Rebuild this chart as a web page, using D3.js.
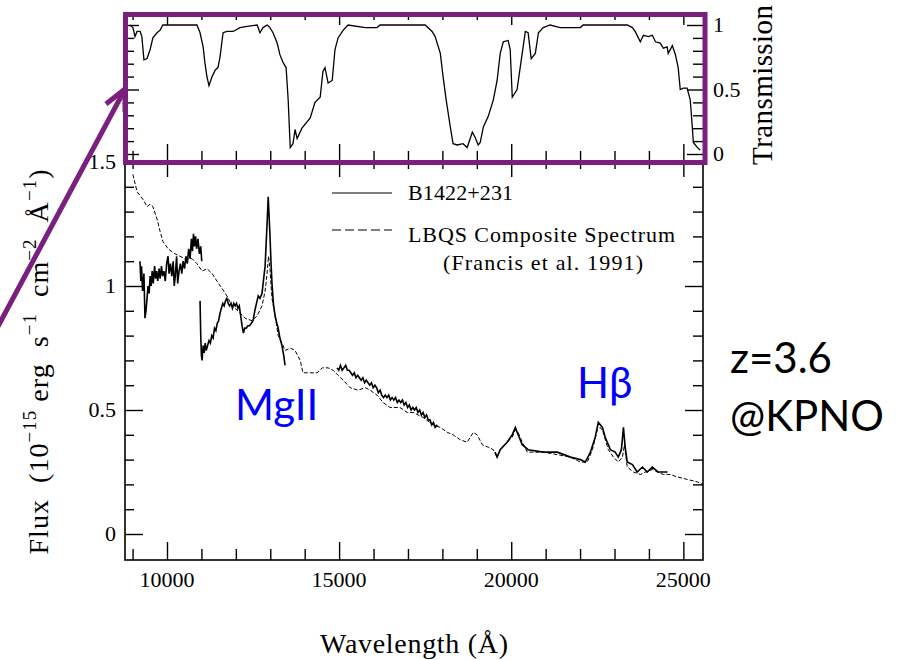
<!DOCTYPE html>
<html>
<head>
<meta charset="utf-8">
<script src="https://cdnjs.cloudflare.com/ajax/libs/d3/7.8.5/d3.min.js"></script>
<style>
body { margin: 0; background: #fff; }
svg text { font-family: "Liberation Serif", "Times New Roman", serif; fill: #000; }
.axis path { display: none; }
.axis line { stroke: #000; stroke-width: 1.4; }
.note { font-family: Lato, "Open Sans", sans-serif !important; }
</style>
</head>
<body>
<div id="vis"></div>
<script>
// atmospheric transmission (top panel)
var transWave = [8920, 9010, 9070, 9130, 9220, 9270, 9330, 9420, 9510, 9590, 9710, 9800, 9880,
    10870, 10960, 11050, 11100, 11160, 11220, 11310, 11400, 11480, 11540, 11600, 11630, 11740, 11920,
    12120, 12330, 12620, 12700, 12790, 12910, 12990, 13080, 13200, 13280, 13370, 13460, 13520, 13580,
    13660, 13720, 13780, 13920, 14160, 14300, 14450, 14530, 14590, 14680, 14800, 14880, 14970, 15120,
    15260, 15760, 16100, 16190, 17500, 17700, 17790, 17940, 18020, 18110, 18230, 18310, 18430, 18600,
    18720, 18870, 18950, 19040, 19100, 19190, 19330, 19480, 19590, 19680, 19770, 19910, 19970, 20030,
    20170, 20260, 20410, 20490, 20580, 20700, 20790, 20930, 21130, 21420, 22010, 22090, 23370, 23520,
    23600, 23750, 23840, 23980, 24100, 24190, 24330, 24420, 24530, 24560, 24680, 24770, 24850, 24910,
    25000, 25110, 25200, 25260, 25290, 25410, 25490];
var transVal = [1.00, 0.98, 0.91, 0.95, 0.95, 0.91, 0.73, 0.74, 0.81, 0.90, 0.94, 0.96, 1.00,
    1.00, 0.94, 0.83, 0.71, 0.60, 0.53, 0.60, 0.65, 0.67, 0.75, 0.88, 0.94, 0.95, 0.95,
    0.98, 0.99, 1.00, 0.94, 0.98, 1.00, 0.98, 0.94, 0.86, 0.77, 0.71, 0.67, 0.42, 0.05,
    0.08, 0.19, 0.12, 0.20, 0.28, 0.40, 0.44, 0.64, 0.67, 0.55, 0.57, 0.81, 0.90, 0.96,
    1.00, 0.98, 0.98, 1.00, 1.00, 0.95, 0.91, 0.78, 0.60, 0.42, 0.21, 0.08, 0.07, 0.08,
    0.05, 0.17, 0.13, 0.07, 0.09, 0.21, 0.29, 0.42, 0.57, 0.78, 0.87, 0.88, 0.81, 0.44,
    0.50, 0.67, 0.95, 0.94, 0.74, 0.78, 0.94, 0.98, 1.00, 0.98, 0.98, 1.00, 1.00, 0.98,
    0.95, 0.87, 0.92, 0.91, 0.92, 0.87, 0.86, 0.82, 0.83, 0.78, 0.84, 0.77, 0.67, 0.50,
    0.51, 0.51, 0.42, 0.21, 0.09, 0.05, 0.03];

// LBQS composite spectrum (dashed)
var compWave = [9010, 9130, 9300, 9420, 9510, 9590, 9710, 9800, 9880, 10030, 10230, 10520, 10730,
    10870, 11020, 11160, 11310, 11450, 11600, 11740, 11890, 12060, 12270, 12470, 12620, 12760, 12850,
    12900, 12950, 12990, 13050, 13140, 13230, 13370, 13430, 13580, 13720, 13870, 13950, 14160, 14360,
    14510, 14680, 14830, 14970, 15120, 15320, 15550, 15760, 15900, 16100, 16280, 16480, 16770, 16980,
    17150, 17440, 17730, 17940, 18140, 18310, 18520, 18720, 18810, 18900, 19010, 19160, 19330, 19480,
    19590, 19680, 19880, 20030, 20120, 20200, 20320, 20470, 20610, 20930, 21340, 21720, 22010, 22210,
    22360, 22500, 22590, 22670, 22820, 22970, 23110, 23230, 23290, 23370, 23550, 23750, 23900, 24100,
    24240, 24420, 24620, 24830, 25120, 25410, 25560];
var compFlux = [1.45, 1.38, 1.35, 1.32, 1.33, 1.32, 1.27, 1.22, 1.18, 1.15, 1.13, 1.11, 1.11,
    1.09, 1.06, 1.07, 1.05, 1.02, 0.99, 0.96, 0.92, 0.90, 0.87, 0.86, 0.88, 0.92, 0.98,
    1.04, 1.12, 1.07, 0.95, 0.88, 0.80, 0.76, 0.74, 0.75, 0.74, 0.70, 0.65, 0.65, 0.65,
    0.67, 0.67, 0.66, 0.64, 0.62, 0.59, 0.58, 0.59, 0.58, 0.56, 0.53, 0.51, 0.51, 0.49,
    0.49, 0.47, 0.44, 0.43, 0.41, 0.40, 0.38, 0.37, 0.39, 0.41, 0.40, 0.36, 0.35, 0.34,
    0.31, 0.34, 0.37, 0.39, 0.42, 0.41, 0.37, 0.33, 0.33, 0.33, 0.32, 0.31, 0.29, 0.29,
    0.34, 0.42, 0.43, 0.41, 0.34, 0.31, 0.29, 0.31, 0.36, 0.27, 0.25, 0.24, 0.25, 0.26,
    0.25, 0.24, 0.24, 0.23, 0.22, 0.21, 0.20];

// B1422+231 (solid), null marks the telluric gaps
var bWave = [9215, 9240, 9260, 9290, 9330, 9360, 9390, 9420, 9450, 9480, 9510, 9540, 9570, 9600,
    9640, 9670, 9700, 9730, 9770, 9800, 9840, 9870, 9910, 9950, 9990, 10030, 10060, 10100, 10140,
    10180, 10210, 10240, 10280, 10310, 10350, 10390, 10430, 10470, 10510, 10550, 10590, 10630, 10670,
    10710, 10740, 10770, 10800, 10830, 10860, 10900, 10940, 10980, 11010, 11015,
    10960, 10980, 11000, 11020, 11050, 11080, 11110, 11140, 11180, 11220, 11260, 11300, 11340, 11380,
    11420, 11460, 11500, 11540, 11580, 11620, 11660, 11700, 11740, 11780, 11820, 11860, 11900, 11940,
    11980, 12020, 12060, 12100, 12140, 12180, 12220, 12260, 12300, 12350, 12400, 12450, 12500, 12550,
    12600, 12650, 12700, 12760, 12800, 12850, 12880, 12910, 12940, 12960, 12990, 13020, 13050, 13090,
    13140, 13190, 13230, 13280, 13340, 13390, 13430, 13440,
    14940, 14990, 15040, 15090, 15140, 15190, 15240, 15290, 15340, 15390, 15440, 15490, 15540, 15590,
    15640, 15690, 15740, 15790, 15840, 15890, 15940, 15990, 16040, 16090, 16140, 16190, 16240, 16290,
    16340, 16390, 16440, 16490, 16540, 16590, 16640, 16690, 16740, 16790, 16840, 16890, 16940, 16990,
    17040, 17090, 17140, 17190, 17240, 17290, 17340, 17390, 17440, 17490, 17540, 17590, 17640, 17690,
    17740, 17790, 17850, 17860,
    19530, 19590, 19680, 19880, 20030, 20120, 20200, 20320, 20490, 20930, 21340, 21720, 22010, 22150,
    22300, 22440, 22530, 22650, 22730, 22880, 23020, 23110, 23200, 23260, 23310, 23370, 23520, 23660,
    23810, 23950, 24100, 24270, 24540];
var bFlux = [1.10, 1.02, 1.08, 0.98, 1.05, 0.87, 0.90, 0.95, 1.00, 0.97, 1.04, 1.00, 1.06, 1.01,
    1.08, 1.03, 1.06, 1.02, 1.07, 1.03, 1.08, 1.04, 1.06, 1.02, 1.09, 1.12, 1.05, 1.09, 1.04,
    1.10, 1.00, 1.04, 1.12, 1.01, 1.06, 1.09, 1.05, 1.10, 1.07, 1.12, 1.09, 1.15, 1.11,
    1.19, 1.14, 1.21, 1.16, 1.20, 1.15, 1.19, 1.13, 1.16, 1.10, null,
    0.94, 0.80, 0.72, 0.70, 0.76, 0.73, 0.77, 0.74, 0.76, 0.78, 0.77, 0.80, 0.79, 0.83,
    0.82, 0.85, 0.86, 0.89, 0.91, 0.93, 0.92, 0.94, 0.95, 0.93, 0.92, 0.93, 0.91, 0.93,
    0.92, 0.93, 0.91, 0.92, 0.88, 0.84, 0.81, 0.83, 0.83, 0.84, 0.84, 0.85, 0.86, 0.90,
    0.93, 0.96, 0.95, 0.97, 1.02, 1.08, 1.17, 1.26, 1.36, 1.30, 1.21, 1.10, 1.01, 0.93,
    0.88, 0.85, 0.83, 0.79, 0.76, 0.72, 0.68, null,
    0.67, 0.66, 0.68, 0.66, 0.67, 0.68, 0.66, 0.66, 0.65, 0.64, 0.65, 0.63, 0.64, 0.63,
    0.62, 0.63, 0.61, 0.62, 0.61, 0.60, 0.61, 0.59, 0.60, 0.59, 0.57, 0.58, 0.56, 0.55,
    0.56, 0.55, 0.56, 0.54, 0.55, 0.54, 0.55, 0.53, 0.54, 0.53, 0.54, 0.52, 0.53, 0.51,
    0.52, 0.50, 0.51, 0.50, 0.51, 0.49, 0.50, 0.48, 0.49, 0.47, 0.48, 0.46, 0.46, 0.44,
    0.45, 0.43, 0.44, null,
    0.33, 0.31, 0.34, 0.37, 0.40, 0.43, 0.40, 0.36, 0.34, 0.33, 0.33, 0.31, 0.30, 0.29,
    0.33, 0.39, 0.45, 0.43, 0.39, 0.34, 0.33, 0.31, 0.34, 0.43, 0.35, 0.29, 0.28, 0.25,
    0.27, 0.25, 0.27, 0.25, 0.25];

var xMajor = [10000, 15000, 20000, 25000];
var xMinor = d3.range(9000, 25001, 1000).filter(function(d) { return d % 5000 != 0; });
var fluxMajor = [0, 0.5, 1, 1.5];
var fluxMinor = d3.range(1, 15).map(function(d) { return d / 10; }).filter(function(d) { return d != 0.5 && d != 1; });
var transMajor = [0, 0.5, 1];
var transMinor = [0.1, 0.2, 0.3, 0.4, 0.6, 0.7, 0.8, 0.9];

var svg = d3.select('#vis').append('svg')
    .attr('width', 897)
    .attr('height', 660);

var left = 125, right = 703;
var xScale = d3.scaleLinear().domain([8780, 25600]).range([125, 704]);
var yFlux = d3.scaleLinear().domain([0, 1.5]).range([534, 162]);
var yTrans = d3.scaleLinear().domain([0, 1]).range([154, 25]);

// inward ticks helper
var ticks = function(axisFn, scale, values, size, tx, ty) {
    svg.append('g')
        .attr('class', 'axis')
        .attr('transform', 'translate(' + tx + ',' + ty + ')')
        .call(axisFn(scale).tickValues(values).tickSize(size).tickFormat(''));
};

// bottom panel frame + ticks
svg.append('rect').attr('x', left).attr('y', 161).attr('width', right - left).attr('height', 399)
    .attr('fill', 'none').attr('stroke', '#000').attr('stroke-width', 1.6);
ticks(d3.axisBottom, xScale, xMajor, -18, 0, 560);
ticks(d3.axisBottom, xScale, xMinor, -11, 0, 560);
ticks(d3.axisTop, xScale, xMajor, -16, 0, 161);
ticks(d3.axisTop, xScale, xMinor, -8, 0, 161);
ticks(d3.axisLeft, yFlux, fluxMajor, -18, left, 0);
ticks(d3.axisLeft, yFlux, fluxMinor, -9, left, 0);
ticks(d3.axisRight, yFlux, fluxMajor, -18, right, 0);
ticks(d3.axisRight, yFlux, fluxMinor, -10, right, 0);

// top panel ticks
ticks(d3.axisBottom, xScale, xMajor, -17, 0, 161);
ticks(d3.axisBottom, xScale, xMinor, -10, 0, 161);
ticks(d3.axisTop, xScale, xMajor, -11, 0, 14);
ticks(d3.axisTop, xScale, xMinor, -6, 0, 14);
ticks(d3.axisLeft, yTrans, transMajor, -14, left, 0);
ticks(d3.axisLeft, yTrans, transMinor, -9, left, 0);
ticks(d3.axisRight, yTrans, transMajor, -16, right, 0);
ticks(d3.axisRight, yTrans, transMinor, -10, right, 0);

// curves
var transData = transWave.map(function(d, i) { return {w: d, v: transVal[i]}; });
var compData = compWave.map(function(d, i) { return {w: d, v: compFlux[i]}; });
var bData = bWave.map(function(d, i) { return {w: d, v: bFlux[i]}; });

svg.append('path').datum(transData)
    .attr('d', d3.line().x(function(d) { return xScale(d.w); }).y(function(d) { return yTrans(d.v); }))
    .attr('fill', 'none').attr('stroke', '#000').attr('stroke-width', 1.3);

svg.append('path').datum(compData)
    .attr('d', d3.line().x(function(d) { return xScale(d.w); }).y(function(d) { return yFlux(d.v); }))
    .attr('fill', 'none').attr('stroke', '#000').attr('stroke-width', 1)
    .attr('stroke-dasharray', '4,2');

svg.append('path').datum(bData)
    .attr('d', d3.line().defined(function(d) { return d.v != null; })
        .x(function(d) { return xScale(d.w); }).y(function(d) { return yFlux(d.v); }))
    .attr('fill', 'none').attr('stroke', '#000').attr('stroke-width', 1.6);

// tick labels
svg.selectAll('.xlab').data(xMajor).enter().append('text')
    .attr('x', function(d) { return xScale(d); })
    .attr('y', 587)
    .attr('text-anchor', 'middle')
    .style('font-size', '22px')
    .text(function(d) { return d; });

svg.selectAll('.ylab').data(fluxMajor).enter().append('text')
    .attr('x', 116)
    .attr('y', function(d) { return yFlux(d) + 7; })
    .attr('text-anchor', 'end')
    .style('font-size', '22px')
    .text(function(d) { return d; });

svg.selectAll('.tlab').data(transMajor).enter().append('text')
    .attr('x', 713)
    .attr('y', function(d) { return yTrans(d) + 7; })
    .style('font-size', '22px')
    .text(function(d) { return d; });

// axis titles
svg.append('text')
    .attr('x', 414).attr('y', 653)
    .attr('text-anchor', 'middle')
    .attr('textLength', 188)
    .style('font-size', '28px')
    .text('Wavelength  (Å)');

svg.append('text')
    .attr('transform', 'translate(772,85) rotate(-90)')
    .attr('text-anchor', 'middle')
    .attr('textLength', 160)
    .style('font-size', '29px')
    .text('Transmission');

var yTitle = svg.append('text')
    .attr('transform', 'translate(48,362) rotate(-90)')
    .attr('text-anchor', 'middle')
    .attr('textLength', 385)
    .attr('lengthAdjust', 'spacing')
    .style('font-size', '28px')
    .style('white-space', 'pre');
var parts = [['Flux  (10', 0], ['−15', 1], [' erg  s', 0], ['−1', 1], ['  cm', 0], ['−2', 1], ['  Å', 0], ['−1', 1], [')', 0]];
var lastUp = 0;
parts.forEach(function(p) {
    var dy = p[1] ? -12 : (lastUp ? 12 : 0);
    yTitle.append('tspan')
        .attr('dy', dy)
        .style('font-size', p[1] ? '19px' : '28px')
        .text(p[0]);
    lastUp = p[1];
});

// legend
svg.append('line').attr('x1', 332).attr('x2', 392).attr('y1', 193).attr('y2', 193)
    .attr('stroke', '#000').attr('stroke-width', 1.2);
svg.append('line').attr('x1', 332).attr('x2', 392).attr('y1', 230).attr('y2', 230)
    .attr('stroke', '#000').attr('stroke-width', 1.2).attr('stroke-dasharray', '9,4');
svg.append('text').attr('x', 408).attr('y', 200).attr('textLength', 105).style('font-size', '22px').text('B1422+231');
svg.append('text').attr('x', 408).attr('y', 242).attr('textLength', 267).style('font-size', '22px').text('LBQS Composite Spectrum');
svg.append('text').attr('x', 443).attr('y', 270).attr('textLength', 200).style('font-size', '22px').text('(Francis et al. 1991)');

// annotations
svg.append('text').attr('class', 'note').attr('x', 235).attr('y', 420)
    .style('font-size', '42px').style('fill', '#0000ff').text('MgII');
svg.append('text').attr('class', 'note').attr('x', 577).attr('y', 398)
    .style('font-size', '42px').style('fill', '#0000ff').text('Hβ');
svg.append('text').attr('class', 'note').attr('x', 730).attr('y', 373)
    .style('font-size', '42px').text('z=3.6');
svg.append('text').attr('class', 'note').attr('x', 730).attr('y', 431)
    .style('font-size', '42px').text('@KPNO');

// purple highlight box and arrow
var purple = '#7a1f7d';
svg.append('rect').attr('x', 125.5).attr('y', 14.5).attr('width', 579.5).attr('height', 148)
    .attr('fill', 'none').attr('stroke', purple).attr('stroke-width', 5);
svg.append('line').attr('x1', -5).attr('y1', 332).attr('x2', 124).attr('y2', 91)
    .attr('stroke', purple).attr('stroke-width', 5);
svg.append('path').attr('d', 'M106,104 L125,89 L125,112')
    .attr('fill', 'none').attr('stroke', purple).attr('stroke-width', 5).attr('stroke-linejoin', 'miter');
</script>
</body>
</html>
